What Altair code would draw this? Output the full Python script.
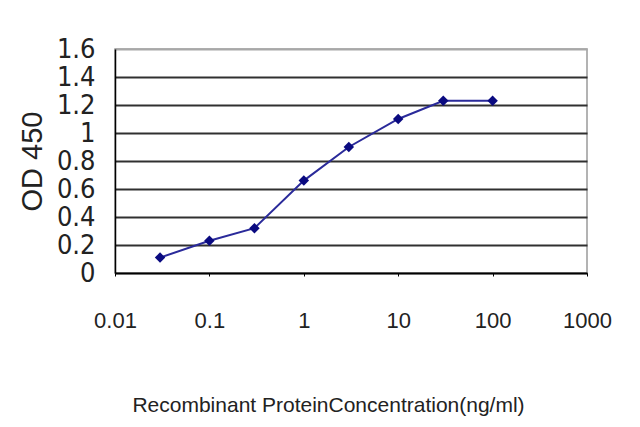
import altair as alt
import pandas as pd

conc = [0.03, 0.1, 0.3, 1, 3, 10, 30, 100]
od450 = [0.11, 0.23, 0.32, 0.66, 0.90, 1.10, 1.23, 1.23]
x_ticks = [0.01, 0.1, 1, 10, 100, 1000]
y_ticks = [0, 0.2, 0.4, 0.6, 0.8, 1.0, 1.2, 1.4, 1.6]

df = pd.DataFrame({"conc": conc, "od": od450})

FONT = "Liberation Sans Narrow, DejaVu Sans Condensed, Liberation Sans, Arial"

x_enc = alt.X(
    "conc:Q",
    scale=alt.Scale(type="log", domain=[0.01, 1000], nice=False),
    axis=alt.Axis(
        values=x_ticks,
        format="~g",
        title="Recombinant ProteinConcentration(ng/ml)",
        grid=False,
        domainColor="#000000",
        domainWidth=1.5,
        tickColor="#000000",
        tickSize=3,
        labelPadding=34,
        labelFont="Liberation Sans",
        labelFontSize=22,
        labelColor="#222222",
        labelFlush=False,
        titleFont="Liberation Sans",
        titleFontSize=21,
        titleFontWeight="normal",
        titleColor="#222222",
        titleX=213,
        titleY=132,
        titleAlign="center",
        titleBaseline="middle",
    ),
)

y_enc = alt.Y(
    "od:Q",
    scale=alt.Scale(domain=[0, 1.6], nice=False),
    axis=alt.Axis(
        values=y_ticks,
        format="~g",
        title="OD 450",
        grid=True,
        gridColor=alt.condition(
            "datum.value > 1.5", alt.value("#a8a8a8"), alt.value("#303030")
        ),
        gridWidth=2,
        domainColor="#000000",
        domainWidth=1.5,
        ticks=False,
        labelPadding=20,
        labelFont=FONT,
        labelFontSize=27,
        labelColor="#222222",
        labelBaseline="middle",
        labelFlush=False,
        labelOverlap=False,
        titleFont="Liberation Sans",
        titleFontSize=29,
        titleFontWeight="normal",
        titleColor="#222222",
        titleX=-83,
        titleY=112,
        titleAlign="center",
        titleBaseline="middle",
    ),
)

line = alt.Chart(df).mark_line(color="#2a2a9a", strokeWidth=2).encode(x=x_enc, y=y_enc)
points = alt.Chart(df).mark_point(
    shape="diamond", filled=True, color="#0a0a80", size=110, opacity=1
).encode(x=x_enc, y=y_enc)

chart = (
    alt.layer(line, points)
    .properties(
        width=472,
        height=224,
        padding={"left": 107, "top": 41, "right": 45, "bottom": 146},
        autosize=alt.AutoSizeParams(type="none"),
        background="#ffffff",
    )
    .configure_view(stroke="#9a9a9a", strokeWidth=1.5)
)

chart.save("out.html", embed_options={"renderer": "svg", "actions": False})
